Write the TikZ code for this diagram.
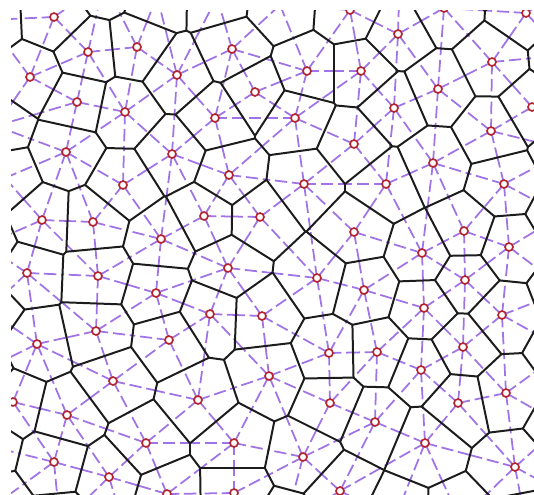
\documentclass[tikz,border=0pt]{standalone}
\usetikzlibrary{calc}
\definecolor{vorline}{RGB}{28,28,28}
\definecolor{delline}{RGB}{160,115,230}
\definecolor{sitered}{RGB}{180,35,45}
\tikzset{
  vorstyle/.style={draw=vorline, line width=1.7pt, line cap=round, line join=round},
  delstyle/.style={draw=delline, line width=1.5pt, dash pattern=on 10.5pt off 4pt},
  sitestyle/.style={circle, draw=sitered, fill=white, line width=1.4pt, inner sep=0pt, minimum size=6.8pt},
}
\NewDocumentCommand\VorEdge{mmmm}{\draw[vorstyle] (#1,#2) -- (#3,#4);}
\NewDocumentCommand\DelEdge{mm}{%
  \draw[delstyle] (s#1) -- ($(s#1)!0.5!(s#2)$);
  \draw[delstyle] (s#2) -- ($(s#2)!0.5!(s#1)$);}
\NewDocumentCommand\MakeSite{mmm}{\coordinate (s#1) at (#2,#3);}
\NewDocumentCommand\MakeCircle{m}{\node[sitestyle] (c#1) at (s#1) {};}
\ExplSyntaxOn
\intarray_new:Nn \g_vor_x_intarray { 400 }
\intarray_new:Nn \g_vor_y_intarray { 400 }
\intarray_new:Nn \g_vor_s_intarray { 400 }
\int_new:N \g_vor_n_int
\int_new:N \l_vor_lo_int
\int_new:N \l_vor_hi_int
\int_new:N \l_vor_a_int
\int_new:N \l_vor_b_int
\int_new:N \l_vor_t_int
\int_new:N \l_vor_ux_int
\int_new:N \l_vor_uy_int
\int_new:N \l_vor_sx_int
\int_new:N \l_vor_sy_int
\int_new:N \l_vor_dx_int
\int_new:N \l_vor_dy_int
\int_const:Nn \c_vor_xmin_int { -60 }
\int_const:Nn \c_vor_xmax_int { 600 }
\int_const:Nn \c_vor_ymin_int { -60 }
\int_const:Nn \c_vor_ymax_int { 560 }
\tl_new:N \g_vor_del_tl
\tl_new:N \g_vor_edge_tl
\cs_new:Npn \vor_x:n #1 { \intarray_item:Nn \g_vor_x_intarray {#1} }
\cs_new:Npn \vor_y:n #1 { \intarray_item:Nn \g_vor_y_intarray {#1} }
\cs_new:Npn \vor_s:n #1 { \intarray_item:Nn \g_vor_s_intarray {#1} }
\cs_new_protected:Npn \vor_add:w #1/#2 \q_stop
 {
  \int_gincr:N \g_vor_n_int
  \intarray_gset:Nnn \g_vor_x_intarray { \g_vor_n_int } { #1 }
  \intarray_gset:Nnn \g_vor_y_intarray { \g_vor_n_int } { #2 }
  \intarray_gset:Nnn \g_vor_s_intarray { \g_vor_n_int } { (#1)*(#1) + (#2)*(#2) }
 }
\NewDocumentCommand \VorSites { m }
 { \clist_map_inline:nn {#1} { \vor_add:w ##1 \q_stop } }
\cs_new_protected:Npn \vor_con:nn #1#2
 {
  \int_set:Nn \l_vor_a_int {#1}
  \int_set:Nn \l_vor_b_int {#2}
  \int_compare:nNnTF { \l_vor_a_int } > { 0 }
   {
    \int_set:Nn \l_vor_t_int { \l_vor_b_int * 1000 / \l_vor_a_int }
    \int_compare:nNnT { \l_vor_t_int } < { \l_vor_hi_int }
     { \int_set_eq:NN \l_vor_hi_int \l_vor_t_int }
   }
   {
    \int_compare:nNnTF { \l_vor_a_int } < { 0 }
     {
      \int_set:Nn \l_vor_t_int { \l_vor_b_int * 1000 / \l_vor_a_int }
      \int_compare:nNnT { \l_vor_t_int } > { \l_vor_lo_int }
       { \int_set_eq:NN \l_vor_lo_int \l_vor_t_int }
     }
     {
      \int_compare:nNnT { \l_vor_b_int } < { 0 }
       { \int_set:Nn \l_vor_lo_int { 1 } \int_set:Nn \l_vor_hi_int { 0 } }
     }
   }
 }
\cs_new_protected:Npn \vor_pair:nn #1#2
 {
  \int_set:Nn \l_vor_ux_int { \vor_y:n {#1} - \vor_y:n {#2} }
  \int_set:Nn \l_vor_uy_int { \vor_x:n {#2} - \vor_x:n {#1} }
  \int_set:Nn \l_vor_sx_int { \vor_x:n {#1} + \vor_x:n {#2} }
  \int_set:Nn \l_vor_sy_int { \vor_y:n {#1} + \vor_y:n {#2} }
  \int_set:Nn \l_vor_lo_int { -1000000000 }
  \int_set:Nn \l_vor_hi_int { 1000000000 }
  \vor_con:nn { -2 * \l_vor_ux_int } { \l_vor_sx_int - 2 * ( \c_vor_xmin_int ) }
  \vor_con:nn { 2 * \l_vor_ux_int } { 2 * \c_vor_xmax_int - \l_vor_sx_int }
  \vor_con:nn { -2 * \l_vor_uy_int } { \l_vor_sy_int - 2 * ( \c_vor_ymin_int ) }
  \vor_con:nn { 2 * \l_vor_uy_int } { 2 * \c_vor_ymax_int - \l_vor_sy_int }
  \int_step_inline:nn { \g_vor_n_int }
   {
    \bool_lazy_or:nnF
     { \int_compare_p:nNn {##1} = {#1} }
     { \int_compare_p:nNn {##1} = {#2} }
     {
      \int_set:Nn \l_vor_dx_int { \vor_x:n {##1} - \vor_x:n {#1} }
      \int_set:Nn \l_vor_dy_int { \vor_y:n {##1} - \vor_y:n {#1} }
      \vor_con:nn
       { 2 * ( \l_vor_ux_int * \l_vor_dx_int + \l_vor_uy_int * \l_vor_dy_int ) }
       { \vor_s:n {##1} - \vor_s:n {#1} - \l_vor_sx_int * \l_vor_dx_int - \l_vor_sy_int * \l_vor_dy_int }
     }
   }
  \int_compare:nNnT { \l_vor_lo_int } < { \l_vor_hi_int }
   {
    \tl_gput_right:Nx \g_vor_del_tl { \exp_not:N \DelEdge {#1} {#2} }
    \tl_gput_right:Nx \g_vor_edge_tl
     {
      \exp_not:N \VorEdge
       { \fp_eval:n { ( 500 * \l_vor_sx_int + \l_vor_lo_int * \l_vor_ux_int ) / 1000 } }
       { \fp_eval:n { ( 500 * \l_vor_sy_int + \l_vor_lo_int * \l_vor_uy_int ) / 1000 } }
       { \fp_eval:n { ( 500 * \l_vor_sx_int + \l_vor_hi_int * \l_vor_ux_int ) / 1000 } }
       { \fp_eval:n { ( 500 * \l_vor_sy_int + \l_vor_hi_int * \l_vor_uy_int ) / 1000 } }
     }
   }
 }
\NewDocumentCommand \VorCompute { }
 {
  \int_step_inline:nn { \g_vor_n_int }
   {
    \int_step_inline:nnn { ##1 + 1 } { \g_vor_n_int }
     {
      \int_compare:nNnT
       {
        ( \vor_x:n {##1} - \vor_x:n {####1} ) * ( \vor_x:n {##1} - \vor_x:n {####1} )
        + ( \vor_y:n {##1} - \vor_y:n {####1} ) * ( \vor_y:n {##1} - \vor_y:n {####1} )
       }
       < { 20000 }
       { \vor_pair:nn {##1} {####1} }
     }
   }
 }
\NewDocumentCommand \VorDelLines { } { \tl_use:N \g_vor_del_tl }
\NewDocumentCommand \VorEdgeLines { } { \tl_use:N \g_vor_edge_tl }
\NewDocumentCommand \VorSiteCoords { }
 {
  \int_step_inline:nn { \g_vor_n_int }
   { \use:e { \MakeSite {##1} { \vor_x:n {##1} } { \vor_y:n {##1} } } }
 }
\NewDocumentCommand \VorCircles { }
 { \int_step_inline:nn { \g_vor_n_int } { \MakeCircle {##1} } }
\ExplSyntaxOff
% visible sites (pixel coordinates, y downwards)
\VorSites{54/17, 88/52, 137/47, 30/77, 177/75, 77/102, 125/112, 350/10, 232/49,
 307/71, 255/92, 215/118, 295/118, 444/8, 526/13, 398/34, 361/71, 492/62, 438/89,
 394/108, 532/107, 66/152, 172/154, 123/185, 42/220, 93/222, 161/239, 229/175,
 354/144, 304/184, 204/216, 260/217, 354/232, 491/131, 433/163, 386/184, 504/184,
 464/231, 509/247, 27/273, 98/276, 156/293, 96/331, 37/344, 169/340, 228/268,
 317/278, 210/314, 262/316, 329/353, 422/253, 364/290, 465/280, 424/308, 502/315,
 377/352, 463/347, 421/370, 113/381, 13/402, 67/415, 146/443, 54/462, 109/477,
 167/494, 269/376, 198/400, 330/403, 234/443, 303/457, 234/493, 340/491, 506/393,
 458/403, 375/422, 425/443, 515/467, 280/5}
% sites outside the frame
\VorSites{-12/20, 104/-18, 157/-4, 217/-3, 400/-35, 485/-30, 565/-10,
 -4/126, 5/178, -15/245, -12/310, -20/372, -15/445, -5/505,
 60/525, 125/530, 285/525, 395/518, 460/520, 525/520,
 565/55, 568/150, 562/215, 566/290, 565/350, 562/425, 575/500}
\VorCompute
\begin{document}
\begin{tikzpicture}[x=0.03cm, y=-0.03cm]
  \useasboundingbox (0,0) rectangle (534,494);
  \begin{scope}
    \clip (11,10) rectangle (534,494);
    \VorSiteCoords
    \VorDelLines
    \VorEdgeLines
    \VorCircles
  \end{scope}
\end{tikzpicture}
\end{document}
